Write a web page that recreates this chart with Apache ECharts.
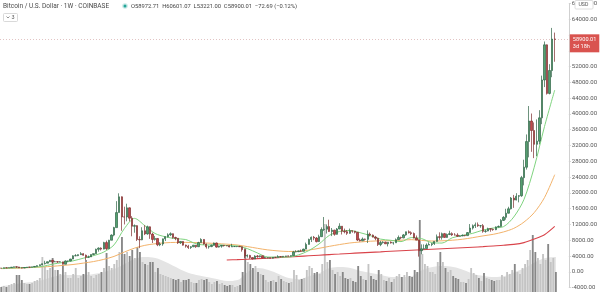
<!DOCTYPE html>
<html>
<head>
<meta charset="utf-8">
<script src="https://cdn.jsdelivr.net/npm/echarts@6/dist/echarts.min.js"></script>
<style>html,body{margin:0;padding:0;background:#fff}#c{width:600px;height:292px}</style>
</head>
<body>
<div id="c"></div>
<script>
// weekly candles, Jan 23 2017 .. Mar 15 2021 (217 weeks)
const startWeek = '2017-01-23';
const totalSlots = 222; // 217 weeks + empty space on the right
const open = [921,920,1022,1000,1050,1180,1260,1230,1020,965,
1090,1190,1180,1250,1365,1560,1800,2050,2190,2550,
2920,2520,2560,2500,2520,1930,2750,2750,3230,4050,
4100,4350,4590,4200,3700,3780,4390,4600,5700,6000,
5750,7400,5860,8000,9300,11200,15000,19000,13900,13880,
16200,13600,11550,11700,8200,8100,10400,9600,11400,9550,
8200,8450,6850,7050,8350,8900,9380,9650,8700,8500,
7350,7700,6760,6500,6150,6360,6750,6350,7400,8200,
7030,6300,6400,6700,7300,6260,6500,6700,6630,6600,
6300,6400,6400,6430,6350,5600,4000,4150,3600,3250,
4000,3850,4050,3510,3550,3560,3450,3680,3670,3860,
3800,3930,4010,3990,4100,5050,5100,5300,5200,5750,
6950,8200,8750,8550,7650,8900,10700,10800,11450,10200,
10550,9500,10850,11550,10300,10150,9750,10400,10300,10000,
8050,7850,8300,8220,9550,9300,8800,8500,6900,7400,
7500,7100,7500,7300,7350,8150,8700,8600,9350,10150,
9900,9700,8550,8030,5360,5830,5880,6780,6900,7130,
7700,8900,8720,9670,8720,9450,9670,9340,9300,9000,
9080,9240,9170,9930,11080,11680,11900,11670,11700,10250,
10330,10930,10770,10670,11380,11500,13030,13800,14850,15960,
18680,18180,19150,19270,23860,26500,33000,38200,35800,32300,
33100,39000,48600,57500,45200,51000,58972.71];
const close = [920,1022,1000,1050,1180,1260,1230,1020,965,1090,
1190,1180,1250,1365,1560,1800,2050,2190,2550,2920,
2520,2560,2500,2520,1930,2750,2750,3230,4050,4100,
4350,4590,4200,3700,3780,4390,4600,5700,6000,5750,
7400,5860,8000,9300,11200,15000,19000,13900,13880,16200,
13600,11550,11700,8200,8100,10400,9600,11400,9550,8200,
8450,6850,7050,8350,8900,9380,9650,8700,8500,7350,
7700,6760,6500,6150,6360,6750,6350,7400,8200,7030,
6300,6400,6700,7300,6260,6500,6700,6630,6600,6300,
6400,6400,6430,6350,5600,4000,4150,3600,3250,4000,
3850,4050,3510,3550,3560,3450,3680,3670,3860,3800,
3930,4010,3990,4100,5050,5100,5300,5200,5750,6950,
8200,8750,8550,7650,8900,10700,10800,11450,10200,10550,
9500,10850,11550,10300,10150,9750,10400,10300,10000,8050,
7850,8300,8220,9550,9300,8800,8500,6900,7400,7500,
7100,7500,7300,7350,8150,8700,8600,9350,10150,9900,
9700,8550,8030,5360,5830,5880,6780,6900,7130,7700,
8900,8720,9670,8720,9450,9670,9340,9300,9000,9080,
9240,9170,9930,11080,11680,11900,11670,11700,10250,10330,
10930,10770,10670,11380,11500,13030,13800,14850,15960,18680,
18180,19150,19270,23860,26500,33000,38200,35800,32300,33100,
39000,48600,57500,45200,51000,58972.70,58900.01];
const high = [925,1035,1060,1065,1200,1290,1330,1260,1075,1095,
1210,1215,1265,1375,1620,1840,2080,2790,2580,3000,
2990,2800,2630,2670,2540,2900,2800,3280,4180,4480,
4390,4980,4720,4380,4120,4400,4620,5860,6200,6200,
7600,7900,8100,9500,11400,17900,19891,19100,16500,17250,
16300,14100,12000,11800,9000,11300,11800,11700,11500,9900,
9100,8500,7500,8400,9000,9750,9990,9700,8880,8550,
7780,7760,6880,6830,6500,6800,6800,7600,8500,8250,
7150,6600,6900,7400,7410,6600,6800,6800,6700,6720,
7100,6500,6450,6580,6400,5650,4400,4300,3630,4200,
4250,4150,4100,3850,3650,3580,3700,3700,4200,3900,
3950,4030,4100,4150,5300,5470,5400,5650,5850,7400,
8400,8950,9080,8800,9400,11250,13880,12000,13200,11100,
10650,11100,12300,11600,10950,10600,10950,10460,10350,10050,
8450,8700,8400,10500,9950,9450,9100,8600,7850,7750,
7640,7520,7700,7500,8450,9200,8900,9580,10160,10500,
10250,9970,9200,8180,6950,6950,7200,7470,7300,7750,
9450,10000,9950,9850,9700,10400,10000,9800,9780,9250,
9480,9350,10050,12100,12000,12480,12500,11800,12100,10620,
11180,10990,10950,11500,11730,13350,14100,15970,16480,18950,
19480,19920,19420,24300,28400,34800,42000,40100,37850,38600,
40950,49700,58350,57600,52600,61788,60601.07];
const low = [885,915,940,985,1050,1150,975,1000,890,935,
1080,1145,1170,1245,1345,1560,1690,1850,2190,2470,
2100,2480,2270,2440,1830,1930,2450,2650,3200,3960,
3970,4300,4100,2980,3500,3750,4180,4580,5100,5400,
5700,5500,5850,8000,9000,11200,15000,10400,12000,12800,
12800,9000,9900,7800,6000,8000,9300,9400,8350,7300,
7900,6500,6500,6600,7800,8700,9050,8400,8000,7050,
7050,6650,6120,5780,5800,6250,6070,6300,7400,6880,
5880,5870,6250,6650,6100,6150,6100,6400,6500,6200,
6300,6380,6250,6330,5100,3500,3600,3300,3150,3250,
3550,3650,3500,3500,3450,3380,3370,3560,3650,3700,
3700,3830,3880,3900,4100,4950,5000,5050,5180,5700,
6900,7550,8000,7450,7550,8900,10350,9700,10100,9050,
9150,9400,10800,9450,9750,9350,9650,9900,9700,7800,
7700,7800,7900,7300,8960,8700,8000,6550,6500,7150,
7050,6430,7150,6870,7350,8100,8250,8500,9150,9700,
9300,8500,8000,3850,4450,5700,5860,6760,6500,6800,
7650,8100,8150,8650,8630,9300,9100,9230,8850,8950,
9050,9000,9100,9900,10700,11100,11380,11150,9900,9900,
10280,10150,10400,10550,11200,11400,12900,13200,14800,15800,
16200,18100,17600,19000,21900,25900,29000,30400,28800,29300,
32300,37400,46800,44900,44950,49300,53221.00];
// weekly volume (thousand BTC)
const volume = [20,24,20,28,32,36,68,68,48,36,32,32,36,44,48,56,
140,100,88,96,136,88,88,72,108,80,
56,56,72,96,56,64,72,128,80,64,
56,68,72,80,96,156,104,96,112,128,
160,220,152,160,144,168,136,180,160,120,
112,108,120,120,80,96,72,68,64,60,
56,52,48,52,40,48,48,52,40,36,
36,48,52,48,52,40,32,40,44,32,
36,28,24,28,28,20,24,28,80,176,
120,112,96,104,80,72,68,48,40,44,
48,40,64,52,44,40,36,40,88,68,
48,52,56,88,104,96,76,80,72,112,
272,120,128,88,72,80,64,80,56,52,
56,44,40,104,64,52,48,112,64,52,
48,88,72,48,44,56,40,52,64,72,
60,68,80,64,60,88,80,288,152,112,
104,80,80,72,120,160,120,96,80,88,
64,56,52,40,40,36,52,96,76,68,
56,44,76,56,52,48,44,48,48,68,
60,80,72,88,112,80,72,96,112,128,
168,228,160,136,112,152,128,192,120,136,80];
// indicator values read every 4 weeks
const maStep = 4;
const maFast = [853,971,1057,1142,1347,1939,2354,2773,3447,4099,5011,6820,10929,13533,11713,9715,8875,8403,8179,7112,6780,6869,6642,6552,5886,4763,3752,3718,3750,4281,5365,7035,9215,10215,10470,9920,9172,8287,7985,7650,8670,8417,7406,7287,8620,9219,9749,10570,11098,11436,13882,18328,26494,36786,46037];
const maMid = [800,880,960,1100,1230,1400,1620,1850,2200,2600,3150,3900,5000,6000,6700,7100,7350,7450,7450,7400,7300,7150,7000,6800,6400,5950,5550,5300,5150,5200,5500,5950,6450,6900,7300,7550,7750,7850,7900,8000,8150,7950,7800,7850,8000,8250,8650,9100,9500,10100,11000,12600,15000,18800,24600];
const maSlow = [null,null,null,null,null,null,null,null,null,null,null,null,null,null,null,null,null,null,null,null,null,null,
3000,3080,3200,3330,3460,3600,3760,3900,4050,4200,4360,4500,4650,4800,4930,5060,5200,5330,5470,5600,5720,5850,5980,6100,6230,6380,6550,6720,6950,7400,8300,9400,11500];
const volAvg = [24,28,36,40,48,60,68,68,68,72,80,92,112,132,140,136,120,100,80,68,60,52,44,48,80,96,88,72,56,52,64,76,96,100,96,84,76,68,60,60,64,88,100,104,100,88,72,64,60,64,80,96,120,136,140];
const yTicksHidden = [60000, 56000];
const titleText = 'Bitcoin / U.S. Dollar · 1W · COINBASE';
const tagTime = '3d 18h';

const dates = [];
const t0 = Date.parse(startWeek + 'T00:00:00Z');
for (let i = 0; i < totalSlots; i++) dates.push(new Date(t0 + i * 7 * 864e5).toISOString().slice(0, 10));

const candles = open.map((o, i) => [o, close[i], low[i], high[i]]);
const volData = volume.map((v, i) => ({
  value: v,
  itemStyle: { color: close[i] >= open[i] ? '#c4c4c4' : '#878787' }
}));
const sampled = arr => arr.map((v, k) => [dates[k * maStep], v]);
const last = close[close.length - 1];
const prev = close[close.length - 2];
const chg = last - prev;
const ohlcText = 'O' + open[open.length-1].toFixed(2) + '  H' + high[high.length-1].toFixed(2) +
  '  L' + low[low.length-1].toFixed(2) + '  C' + last.toFixed(2) + '  ' + (chg < 0 ? '−' : '+') +
  Math.abs(chg).toFixed(2) + ' (' + (chg < 0 ? '−' : '+') + Math.abs(chg / prev * 100).toFixed(2) + '%)';

const FONT = 'Roboto, "Open Sans", sans-serif';
const chart = echarts.init(document.getElementById('c'), null, { renderer: 'canvas' });
chart.setOption({
  animation: false,
  backgroundColor: '#ffffff',
  grid: [
    { left: 0, right: 30, top: 3.4, bottom: 4.4 },
    { left: 0, right: 30, top: 200, bottom: 0 }
  ],
  xAxis: [
    { type: 'category', gridIndex: 0, data: dates, boundaryGap: true, show: false },
    { type: 'category', gridIndex: 1, data: dates, boundaryGap: true, show: false }
  ],
  yAxis: [
    {
      type: 'value', gridIndex: 0, position: 'right', min: -4000, max: 68000, interval: 4000,
      splitLine: { show: false },
      axisLine: { show: true, lineStyle: { color: '#d0d0d0', width: 1 } },
      axisTick: { show: true, length: 2, lineStyle: { color: '#d0d0d0' } },
      axisLabel: {
        margin: 3, fontSize: 6, color: '#555', fontFamily: FONT,
        formatter: v => yTicksHidden.includes(v) ? '' : v.toFixed(2)
      }
    },
    { type: 'value', gridIndex: 1, min: 0, max: 368, show: false }
  ],
  graphic: [
    { type: 'text', left: 3, top: 2.8, style: { text: titleText, fontSize: 6.5, fill: '#4a4a4a', fontFamily: FONT } },
    { type: 'circle', shape: { cx: 125, cy: 6, r: 2.8 }, style: { fill: 'rgba(38,166,154,0.25)' } },
    { type: 'circle', shape: { cx: 125, cy: 6, r: 1.5 }, style: { fill: '#26a69a' } },
    { type: 'text', left: 131, top: 3.2, style: { text: ohlcText, fontSize: 5.8, fill: '#444', fontFamily: FONT } },
    { type: 'rect', shape: { x: 3.5, y: 13.5, width: 14, height: 8, r: 1 }, style: { fill: '#fff', stroke: '#cfcfcf', lineWidth: 0.8 } },
    { type: 'polyline', shape: { points: [[6.5, 16.5], [8, 18], [9.5, 16.5]] }, style: { stroke: '#666', lineWidth: 0.7, fill: null } },
    { type: 'text', left: 11.5, top: 14.6, style: { text: '3', fontSize: 5.5, fill: '#555', fontFamily: FONT } },
    { type: 'rect', shape: { x: 575, y: 0.5, width: 18, height: 8.5, r: 1 }, style: { fill: '#fff', stroke: '#d6d6d6', lineWidth: 0.8 }, z: 100 },
    { type: 'text', left: 578.5, top: 2.2, style: { text: 'USD', fontSize: 5.2, fill: '#555', fontFamily: FONT }, z: 101 }
  ],
  series: [
    {
      name: 'vol avg', type: 'line', xAxisIndex: 1, yAxisIndex: 1, data: sampled(volAvg),
      smooth: 0.4, symbol: 'none', lineStyle: { width: 0 }, areaStyle: { color: '#e4e4e4', opacity: 1 }, z: 1
    },
    {
      name: 'volume', type: 'bar', xAxisIndex: 1, yAxisIndex: 1, data: volData,
      barWidth: '72%', z: 2
    },
    {
      name: 'slow', type: 'line', data: sampled(maSlow), smooth: 0.3, symbol: 'none',
      lineStyle: { color: '#d9434a', width: 1.1 }, z: 3
    },
    {
      name: 'mid', type: 'line', data: sampled(maMid), smooth: 0.3, symbol: 'none',
      lineStyle: { color: '#f3b36b', width: 1 }, z: 3
    },
    {
      name: 'fast', type: 'line', data: sampled(maFast), smooth: 0.3, symbol: 'none',
      lineStyle: { color: '#7fd47f', width: 1 }, z: 3
    },
    {
      name: 'BTCUSD', type: 'candlestick', data: candles, barWidth: '72%', z: 5,
      itemStyle: {
        color: '#53a06f', color0: '#c2484b',
        borderColor: '#2f6446', borderColor0: '#7e2f2f', borderWidth: 0.7
      },
      markLine: {
        silent: true, animation: false, symbol: ['none', 'none'],
        lineStyle: { color: '#e2c4c4', type: [1, 2], width: 1 },
        label: {
          show: true, position: 'end', distance: 1,
          formatter: last.toFixed(2) + '\n' + tagTime,
          backgroundColor: '#d9534f', color: '#fff', fontSize: 5.6, lineHeight: 7.5,
          padding: [1.5, 3, 1.5, 3], fontFamily: FONT, offset: [0, 4]
        },
        data: [{ yAxis: last }]
      }
    }
  ]
});
</script>
</body>
</html>
